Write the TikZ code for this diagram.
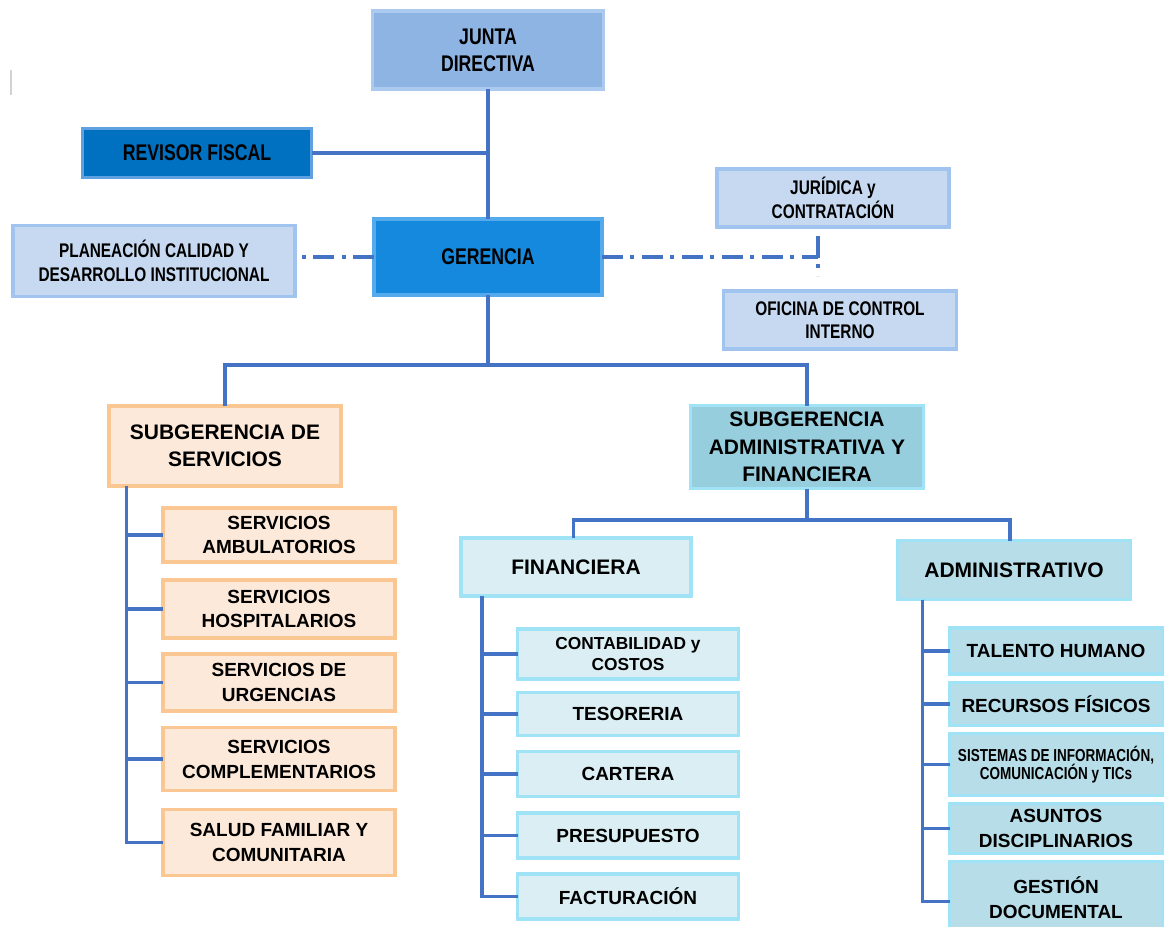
\documentclass[tikz,border=0pt]{standalone}
\usepackage{fontspec}
\setmainfont{Liberation Sans}
\newfontfamily\narrowsf{Liberation Sans}[FakeStretch=0.78]
\usepackage{tikz}
\usetikzlibrary{positioning}

\definecolor{linea}{RGB}{68,114,196}
\definecolor{juntafill}{RGB}{141,180,227}
\definecolor{juntaedge}{RGB}{172,202,240}
\definecolor{revfill}{RGB}{0,112,192}
\definecolor{revedge}{RGB}{95,160,225}
\definecolor{gerfill}{RGB}{20,137,222}
\definecolor{geredge}{RGB}{85,170,236}
\definecolor{palefill}{RGB}{198,217,241}
\definecolor{paleedge}{RGB}{160,196,238}
\definecolor{orfill}{RGB}{253,233,217}
\definecolor{oredge}{RGB}{250,199,146}
\definecolor{subadmfill}{RGB}{150,206,222}
\definecolor{admfill}{RGB}{183,221,232}
\definecolor{finfill}{RGB}{218,238,243}
\definecolor{cyanedge}{RGB}{160,226,246}

\newcommand{\ftop}{\narrowsf\bfseries\fontsize{17}{20}\selectfont}
\newcommand{\fside}{\narrowsf\bfseries\fontsize{14.8}{17.5}\selectfont}
\newcommand{\fmid}{\bfseries\fontsize{15.75}{20.5}\selectfont}
\newcommand{\fkid}{\bfseries\fontsize{14.25}{18.5}\selectfont}

\begin{document}
\begin{tikzpicture}[
        x=0.75pt, y=-0.75pt,
        box/.style={
            draw,
            line width=2.4pt,
            outer sep=0pt,
            inner sep=2pt,
            align=center,
            text=black
        },
        sz/.style 2 args={minimum width=#1*0.75pt, minimum height=#2*0.75pt},
        pale/.style={box, fill=palefill, draw=paleedge, font=\fside},
        serv/.style={box, fill=orfill, draw=oredge, font=\fkid, sz={232}{#1}},
        fink/.style={box, fill=finfill, draw=cyanedge, font=\fkid, sz={221}{#1}},
        admk/.style={box, fill=admfill, draw=cyanedge, font=\fkid, sz={213}{#1}},
        conn/.style={draw=linea, line width=2.7pt},
        dashdot/.style={draw=linea, line width=3.3pt,
            dash pattern=on 16pt off 5pt on 3pt off 6pt}
    ]
        \useasboundingbox (0,0) rectangle (1165,926);
        \draw[gray!35, line width=1.5pt] (11,70) -- (11,95);

        % nivel directivo
        \node[box, fill=juntafill, draw=juntaedge, font=\ftop, sz={231}{78}] (junta) at (488,50) {JUNTA\\DIRECTIVA};
        \node[box, fill=revfill, draw=revedge, font=\narrowsf\bfseries\fontsize{17}{20}\selectfont, sz={229}{49}] (revisor) at (197,153) {REVISOR FISCAL};
        \node[box, fill=gerfill, draw=geredge, font=\ftop, sz={228}{76}] (gerencia) at (488,257) {GERENCIA};
        \node[pale, sz={282}{71}] (planea) at (154,261) {PLANEACIÓN CALIDAD Y\\DESARROLLO INSTITUCIONAL};
        \node[pale, sz={232}{58}] (juridica) at (833,198) {JURÍDICA y\\CONTRATACIÓN};
        \node[pale, sz={233}{58}] (control) at (840,320) {OFICINA DE CONTROL\\INTERNO};

        % subgerencias
        \node[box, fill=orfill, draw=oredge, font=\fmid, sz={232}{80}] (subserv) at (225,446) {SUBGERENCIA DE\\SERVICIOS};
        \node[box, fill=subadmfill, draw=cyanedge, font=\fmid, sz={233}{83}] (subadm) at (807,447) {SUBGERENCIA\\ADMINISTRATIVA Y\\FINANCIERA};
        \node[box, fill=finfill, draw=cyanedge, font=\fmid, sz={230}{58}] (finan) at (576,567) {FINANCIERA};
        \node[box, fill=admfill, draw=cyanedge, font=\fmid, sz={233}{59}] (admin) at (1014,570) {ADMINISTRATIVO};

        % servicios
        \node[serv={54}] (amb) at (279,535) {SERVICIOS\\AMBULATORIOS};
        \node[serv={58}, below=13.5pt of amb] (hosp) {SERVICIOS\\HOSPITALARIOS};
        \node[serv={57}, below=12pt of hosp] (urg) {SERVICIOS DE\\URGENCIAS};
        \node[serv={63}, below=12.5pt of urg] (compl) {SERVICIOS\\COMPLEMENTARIOS};
        \node[serv={66}, below=14pt of compl] (salud) {SALUD FAMILIAR Y\\COMUNITARIA};

        % financiera
        \node[fink={50}, font=\bfseries\fontsize{13}{16.3}\selectfont] (conta) at (628,654) {CONTABILIDAD y\\COSTOS};
        \node[fink={43}, below=10pt of conta] (teso) {TESORERIA};
        \node[fink={45}, below=12pt of teso] (cart) {CARTERA};
        \node[fink={45}, below=12.5pt of cart] (presu) {PRESUPUESTO};
        \node[fink={45}, below=12pt of presu] (factu) {FACTURACIÓN};

        % administrativo
        \node[admk={46}] (talento) at (1056,651) {TALENTO HUMANO};
        \node[admk={43}, below=6.5pt of talento] (recur) {RECURSOS FÍSICOS};
        \node[admk={62}, below=6pt of recur, font=\narrowsf\bfseries\fontsize{13}{14}\selectfont] (sistemas) {SISTEMAS DE INFORMACIÓN,\\COMUNICACIÓN y TICs};
        \node[admk={50}, below=6pt of sistemas] (asuntos) {ASUNTOS\\DISCIPLINARIOS};
        \node[admk={72}, below=6pt of asuntos] (gestion) {GESTIÓN\\DOCUMENTAL};

        % lineas
        \draw[conn] (junta.south) -- (gerencia.north);
        \draw[conn] (revisor.east) -- (revisor.east -| junta.south);
        \draw[dashdot] (gerencia.west) -- (gerencia.west -| planea.east);
        \coordinate (jurbus) at (818,257);
        \draw[dashdot] (gerencia.east) -- (jurbus);
        \draw[dashdot] ([yshift=-7pt]juridica.south -| jurbus) -- ++(0,40);

        \coordinate (busA) at (488,365);
        \draw[conn] (gerencia.south) -- (busA);
        \draw[conn] (subserv.north) |- (busA) -| (subadm.north);
        \coordinate (busB) at (807,520);
        \draw[conn] (subadm.south) -- (busB);
        \draw[conn] ([xshift=-2pt]finan.north) |- (busB) -| ([xshift=-3pt]admin.north);

        \coordinate (servspine) at ([xshift=13pt]subserv.south west);
        \coordinate (finspine) at ([xshift=15.75pt]finan.south west);
        \coordinate (admspine) at ([xshift=18.75pt]admin.south west);
        \foreach \k in {amb,hosp,urg,compl,salud}
            \draw[conn] (servspine) |- (\k.west);
        \foreach \k in {conta,teso,cart,presu,factu}
            \draw[conn] (finspine) |- (\k.west);
        \foreach \k in {talento,recur,sistemas,asuntos}
            \draw[conn] (admspine) |- (\k.west);
        \draw[conn] (admspine) |- ([yshift=-3pt]gestion.west);
\end{tikzpicture}
\end{document}
